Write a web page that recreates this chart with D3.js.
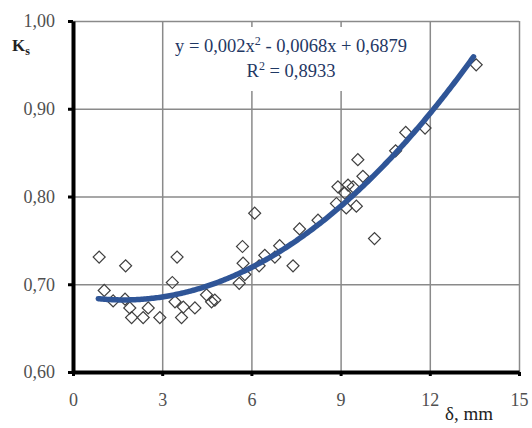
<!DOCTYPE html>
<html>
<head>
<meta charset="utf-8">
<script src="https://cdn.jsdelivr.net/npm/d3@7"></script>
<style>
  body { margin: 0; background: #fff; }
  svg { display: block; }
  text { font-family: "Liberation Serif", serif; }
</style>
</head>
<body>
<svg width="532" height="428"></svg>
<script>
// measured values: displacement δ (mm) vs coefficient Ks
const deltaMm = [
  0.88, 1.05, 1.35, 1.75, 1.77, 1.91, 1.97, 2.36, 2.53, 2.92,
  3.34, 3.43, 3.50, 3.65, 3.71, 4.10, 4.49, 4.66, 4.77, 5.59,
  5.70, 5.72, 5.78, 6.11, 6.26, 6.45, 6.79, 6.95, 7.40, 7.62,
  8.24, 8.86, 8.91, 9.14, 9.19, 9.25, 9.42, 9.53, 9.58, 9.75,
  10.14, 10.85, 11.19, 11.84, 13.56
]
const ksValues = [
  0.731, 0.693, 0.681, 0.683, 0.721, 0.673, 0.662, 0.662, 0.673, 0.662,
  0.702, 0.680, 0.731, 0.662, 0.674, 0.673, 0.688, 0.680, 0.682, 0.701,
  0.743, 0.724, 0.711, 0.781, 0.721, 0.733, 0.731, 0.744, 0.721, 0.763,
  0.773, 0.792, 0.811, 0.804, 0.787, 0.813, 0.811, 0.789, 0.842, 0.823,
  0.752, 0.852, 0.873, 0.878, 0.950
]
// trendline y = a x^2 + b x + c, as printed on the chart
const trendCoef = [0.002, -0.0068, 0.6879]
const trendRange = [0.85, 13.47]
const xTicks = [0, 3, 6, 9, 12, 15]
const yTicks = [0.6, 0.7, 0.8, 0.9, 1.0]

const data = deltaMm.map((d, i) => ({ x: d, y: ksValues[i] }))

const svg = d3.select('svg')
const margin = { top: 21, right: 13, bottom: 56, left: 73 }
const width = svg.attr('width') - margin.left - margin.right
const height = svg.attr('height') - margin.top - margin.bottom

const g = svg
  .append('g')
  .attr('transform', 'translate(' + margin.left + ',' + margin.top + ')')

const locale = d3.formatLocale({ decimal: ',', thousands: ' ', grouping: [3], currency: ['', ''] })

const x = d3.scaleLinear().domain([0, 15]).range([0, width])
const y = d3.scaleLinear().domain([0.6, 1.0]).range([height, 0])

// grid
g.append('g')
  .attr('class', 'grid')
  .call(d3.axisLeft(y).tickValues(yTicks).tickSize(-width).tickFormat(''))
  .call(s => s.select('.domain').remove())
g.append('g')
  .attr('class', 'grid')
  .attr('transform', 'translate(0,' + height + ')')
  .call(d3.axisBottom(x).tickValues(xTicks).tickSize(-height).tickFormat(''))
  .call(s => s.select('.domain').remove())
g.selectAll('.grid line').attr('stroke', '#8a8a8a').attr('stroke-width', 1.5)

// equation box hides the grid behind it
g.append('rect')
  .attr('x', 92).attr('y', 6)
  .attr('width', 250).attr('height', 64)
  .attr('fill', '#fff')

// points
const diamond = d3.symbol(d3.symbolSquare, 72)
g.append('g')
  .selectAll('path')
  .data(data)
  .enter()
  .append('path')
  .attr('d', diamond)
  .attr('transform', d => 'translate(' + x(d.x) + ',' + y(d.y) + ') rotate(45)')
  .attr('fill', 'none')
  .attr('stroke', '#404040')
  .attr('stroke-width', 1.2)

// trendline
const poly = v => trendCoef[0] * v * v + trendCoef[1] * v + trendCoef[2]
const trend = d3.range(trendRange[0], trendRange[1], 0.05)
  .concat([trendRange[1]])
  .map(v => ({ x: v, y: poly(v) }))
g.append('path')
  .datum(trend)
  .attr('fill', 'none')
  .attr('stroke', '#2f5597')
  .attr('stroke-width', 5.5)
  .attr('stroke-linecap', 'round')
  .attr('d', d3.line().x(d => x(d.x)).y(d => y(d.y)))

// axes
const yAxis = g.append('g')
  .call(d3.axisLeft(y).tickValues(yTicks).tickSize(5).tickSizeOuter(0).tickPadding(13)
    .tickFormat(locale.format('.2f')))
const xAxis = g.append('g')
  .attr('transform', 'translate(0,' + height + ')')
  .call(d3.axisBottom(x).tickValues(xTicks).tickSize(4).tickSizeOuter(0).tickPadding(17))
;[yAxis, xAxis].forEach(a => {
  a.select('.domain').attr('stroke', '#000').attr('stroke-width', 4)
  a.selectAll('.tick line').attr('stroke', '#000').attr('stroke-width', 3)
  a.selectAll('.tick text')
    .attr('fill', '#505050')
    .style('font-family', '"Liberation Serif", serif')
    .style('font-size', '18px')
})

// equation
const eq = g.append('text')
  .attr('x', 218).attr('y', 31)
  .attr('text-anchor', 'middle')
  .attr('fill', '#1f3864')
  .style('font-size', '18.5px')
eq.append('tspan').text('y = 0,002x')
eq.append('tspan').text('2').attr('dy', -7).style('font-size', '12px')
eq.append('tspan').text(' - 0,0068x + 0,6879').attr('dy', 7)
const r2 = g.append('text')
  .attr('x', 218).attr('y', 56)
  .attr('text-anchor', 'middle')
  .attr('fill', '#1f3864')
  .style('font-size', '18.5px')
r2.append('tspan').text('R')
r2.append('tspan').text('2').attr('dy', -7).style('font-size', '12px')
r2.append('tspan').text(' = 0,8933').attr('dy', 7)

// axis titles
const ks = svg.append('text')
  .attr('x', 12).attr('y', 51)
  .attr('fill', '#222')
  .style('font-size', '17px')
  .style('font-weight', 'bold')
ks.append('tspan').text('K')
ks.append('tspan').text('s').attr('dy', 4).style('font-size', '12px')

svg.append('text')
  .attr('x', 469).attr('y', 420)
  .attr('text-anchor', 'middle')
  .attr('fill', '#222')
  .style('font-size', '19px')
  .text('δ, mm')
</script>
</body>
</html>
